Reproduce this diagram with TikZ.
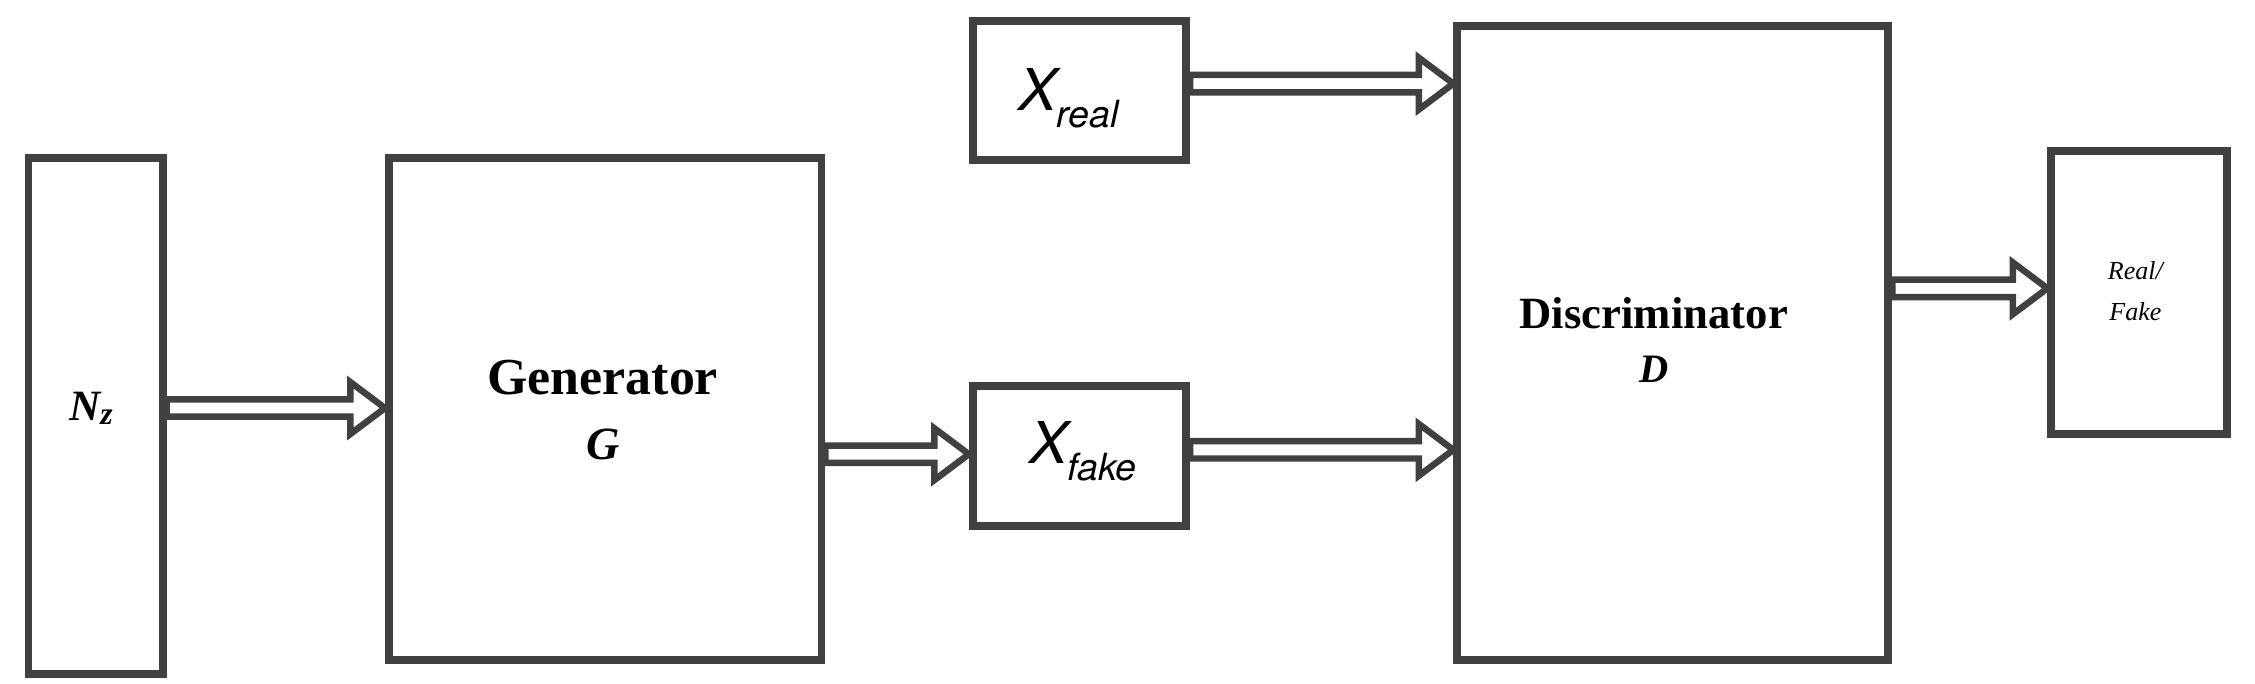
\documentclass[tikz,border=0pt]{standalone}
\usepackage{fontspec}
\setmainfont{TeX Gyre Heros}
\newfontfamily\pal{Liberation Serif}
\usetikzlibrary{calc}
\definecolor{ln}{HTML}{404040}
\begin{document}
\begin{tikzpicture}[x=1pt,y=-1pt,
  box/.style={draw=ln,line width=5.5pt,inner sep=0pt,anchor=north west},
  fat/.style={draw=ln,line width=4.5pt,line join=miter,fill=white}]
\useasboundingbox (0,0) rectangle (1564,474);
\newcommand{\darrow}[2]{%
  \path let \p1=(#1), \p2=(#2) in
  [fat] (\x1,\y1+6) -- (\x2-24,\y1+6) -- (\x2-24,\y1+18) -- (\x2,\y1) -- (\x2-24,\y1-18) -- (\x2-24,\y1-6) -- (\x1,\y1-6) -- cycle;}
\node[box,minimum width=93pt,minimum height=358pt] (nz) at (17,107) {};
\node[box,minimum width=300pt,minimum height=348pt] (gen) at (267,107) {};
\node[box,minimum width=148pt,minimum height=96pt] (xr) at (672,12) {};
\node[box,minimum width=148pt,minimum height=97pt] (xf) at (672,265) {};
\node[box,minimum width=299pt,minimum height=440pt] (dis) at (1008,15) {};
\node[box,minimum width=122pt,minimum height=196pt] (rf) at (1420,102) {};
\node at (63,283) {\pal\fontsize{30}{36}\selectfont\bfseries\itshape N\raisebox{-3pt}{\fontsize{22}{24}\selectfont z}};
\node (g1) at (418,262) {\pal\fontsize{36}{40}\selectfont\bfseries Generator};
\node (g2) at (418,308) {\pal\fontsize{32}{36}\selectfont\bfseries\itshape G};
\node at (741,68) {\fontsize{40}{44}\selectfont\itshape X\raisebox{-12pt}{\fontsize{26}{30}\selectfont real}};
\node at (751,313) {\fontsize{40}{44}\selectfont\itshape X\raisebox{-12pt}{\fontsize{26}{30}\selectfont fake}};
\node (d1) at (1147,217) {\pal\fontsize{31}{36}\selectfont\bfseries Discriminator};
\node (d2) at (1147,256) {\pal\fontsize{28}{34}\selectfont\bfseries\itshape D};
\node (r1) at (1481,188) {\pal\fontsize{18}{22}\selectfont\itshape Real/};
\node (r2) at (1481,216) {\pal\fontsize{18}{22}\selectfont\itshape Fake};
\coordinate (a1) at (nz.east |- 0,283);
\coordinate (a2) at (gen.east |- 0,315);
\coordinate (a3) at (xr.east |- 0,58);
\coordinate (a4) at (xf.east |- 0,312);
\coordinate (a5) at (dis.east |- 0,200);
\darrow{a1}{gen.west |- a1}
\darrow{a2}{xf.west |- a2}
\darrow{a3}{dis.west |- a3}
\darrow{a4}{dis.west |- a4}
\darrow{a5}{rf.west |- a5}
\end{tikzpicture}
\end{document}
